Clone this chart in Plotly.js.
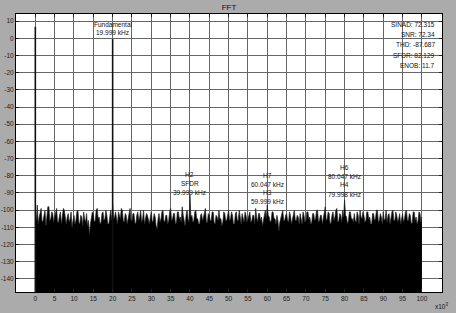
<!DOCTYPE html>
<html><head>
<meta charset="utf-8">
<script src="https://cdn.plot.ly/plotly-3.0.1.min.js"></script>
<style>body{margin:0;background:#ababab}</style>
</head><body>
<div id="chart" style="width:456px;height:313px"></div>
<script>
// Spectrum noise floor (dB), one value every 0.25 kHz from 0 to 100 kHz
const noiseStartKHz = 0;
const noiseStepKHz = 0.25;
const noiseLevels = [
 -101,-106,-97,-108,-104,-100,-99,-107,-106,-103,-100,-109,-103,-98,-98,-106,-105,-101,-102,-107,
 -104,-101,-99,-107,-107,-103,-101,-108,-103,-99,-100,-106,-108,-104,-102,-107,-105,-101,-110,-106,
 -103,-108,-106,-101,-100,-107,-108,-103,-104,-109,-101,-105,-107,-102,-109,-106,-114,-108,-105,-101,
 -102,-107,-106,-100,-99,-105,-104,-108,-107,-102,-101,-106,-105,-100,-103,-108,-108,-104,-100,-106,
 -97,-105,-104,-101,-106,-108,-101,-104,-105,-99,-100,-106,-107,-102,-103,-108,-104,-101,-99,-106,
 -106,-102,-102,-107,-108,-103,-101,-106,-104,-100,-107,-105,-100,-108,-105,-102,-103,-107,-108,-104,
 -101,-107,-106,-102,-104,-109,-111,-105,-102,-107,-105,-101,-100,-106,-107,-103,-103,-108,-106,-101,
 -99,-106,-105,-102,-102,-108,-107,-101,-101,-105,-104,-107,-98,-103,-106,-109,-103,-100,-105,-107,
 -91,-104,-103,-107,-106,-101,-100,-105,-105,-108,-108,-103,-102,-106,-104,-100,-99,-107,-107,-102,
 -103,-106,-106,-101,-101,-107,-108,-103,-104,-106,-100,-105,-105,-109,-107,-101,-102,-106,-106,-103,
 -100,-106,-105,-101,-103,-108,-108,-102,-101,-106,-106,-100,-104,-108,-102,-105,-107,-101,-103,-107,
 -105,-102,-101,-107,-106,-103,-103,-108,-99,-104,-107,-102,-102,-106,-104,-109,-106,-101,-100,-105,
 -97,-103,-104,-107,-106,-101,-101,-105,-105,-108,-103,-106,-112,-107,-104,-101,-100,-106,-106,-103,
 -102,-106,-107,-101,-103,-108,-105,-102,-100,-106,-106,-103,-104,-108,-102,-105,-108,-101,-103,-107,
 -106,-101,-101,-105,-104,-108,-107,-102,-102,-106,-105,-100,-100,-107,-106,-103,-103,-108,-104,-101,
 -98,-106,-105,-101,-102,-108,-107,-103,-101,-106,-104,-100,-99,-107,-106,-102,-103,-107,-100,-104,
 -94,-103,-104,-108,-106,-101,-101,-105,-105,-107,-102,-106,-107,-101,-103,-108,-100,-104,-105,-101,
 -103,-107,-106,-101,-101,-105,-104,-108,-108,-102,-102,-106,-105,-100,-100,-107,-106,-102,-104,-108,
 -101,-106,-105,-100,-107,-103,-102,-108,-104,-101,-100,-106,-106,-101,-103,-107,-105,-102,-108,-104,
 -102,-107,-105,-101,-100,-106,-106,-102,-103,-108,-107,-101,-101,-106,-104,-108,-106,-101,-102,-107,
 -104
];
// Strong tones: DC and fundamental
const toneFreqs = [0, 19.999];
const toneLevels = [6.7, -0.5];

// Tick values
const xTicks = [0,5,10,15,20,25,30,35,40,45,50,55,60,65,70,75,80,85,90,95,100];
const yTicks = [10,0,-10,-20,-30,-40,-50,-60,-70,-80,-90,-100,-110,-120,-130,-140];

// Text labels
const fundLabel = ["Fundamental", "19.999 kHz"];
const statsLabel = ["SINAD: 72.315", "SNR: 72.34", "THD: -87.687", "SFDR: 82.129", "ENOB: 11.7"];
const h2Label = ["H2", "SFDR", "39.999 kHz"];
const h73Label = ["H7", "60.047 kHz", "H3", "59.999 kHz"];
const h64Label = ["H6", "80.047 kHz", "H4", "79.998 kHz"];

const yMin = -147.6, yMax = 14.1;

const noiseX = noiseLevels.map((_, i) => noiseStartKHz + i * noiseStepKHz);
const baseline = {x: noiseX, y: noiseX.map(() => yMin), type: 'scatter', mode: 'lines',
  line: {width: 0, color: 'black'}, hoverinfo: 'skip', showlegend: false};
const noise = {x: noiseX, y: noiseLevels, type: 'scatter', mode: 'lines', fill: 'tonexty',
  fillcolor: 'black', line: {color: '#222', width: 0.7}, showlegend: false};
const tx = [], ty = [];
toneFreqs.forEach((f, i) => { tx.push(f, f, null); ty.push(yMin, toneLevels[i], null); });
const tones = {x: tx, y: ty, type: 'scatter', mode: 'lines', line: {color: '#111', width: 1.6}, showlegend: false};

const font = {family: 'Liberation Sans, Arial, sans-serif', size: 6.5, color: '#111'};
function stack(lines, x, ys, anchor) {
  return lines.map((t, i) => ({x: x, y: ys[i], xref: 'x', yref: 'y', text: t, showarrow: false,
    xanchor: anchor, yanchor: 'middle', font: font}));
}
const annotations = [].concat(
  stack(fundLabel, 20, [8.1, 3.2], 'center'),
  stack(statsLabel, 104, [8.1, 2.0, -3.8, -10.2, -15.8], 'right'),
  stack(h2Label, 40, [-79.1, -84.4, -89.8], 'center'),
  stack(h73Label, 60, [-80.1, -84.8, -89.8, -95.1], 'center'),
  stack(h64Label, 80, [-75.1, -80.5, -85.3, -90.6], 'center'),
  [{x: 0.998, y: -0.05, xref: 'paper', yref: 'paper', text: 'x10<sup>3</sup>', showarrow: false,
    xanchor: 'center', yanchor: 'middle', font: font}]
);

const axisCommon = {showgrid: true, gridcolor: '#666666', gridwidth: 1, zeroline: false,
  showline: true, linecolor: 'black', linewidth: 1, mirror: 'ticks', ticks: 'inside', ticklen: 3,
  tickcolor: '#222', tickfont: {family: 'Liberation Sans, Arial, sans-serif', size: 6.5, color: '#222'}};

const layout = {
  width: 456, height: 313,
  paper_bgcolor: '#ababab', plot_bgcolor: 'white',
  margin: {l: 16, r: 14, t: 14, b: 21},
  title: {text: 'FFT', x: 0.5, xref: 'paper', y: 0.978, yanchor: 'middle',
    font: {family: 'Liberation Sans, Arial, sans-serif', size: 8, color: '#111'}},
  xaxis: Object.assign({}, axisCommon, {range: [-5, 105.2], tickvals: xTicks, ticktext: xTicks.map(String)}),
  yaxis: Object.assign({}, axisCommon, {range: [yMin, yMax], tickvals: yTicks, ticktext: yTicks.map(String)}),
  annotations: annotations,
  showlegend: false
};
Plotly.newPlot('chart', [baseline, noise, tones], layout, {displayModeBar: false, staticPlot: true});
</script>
</body></html>
